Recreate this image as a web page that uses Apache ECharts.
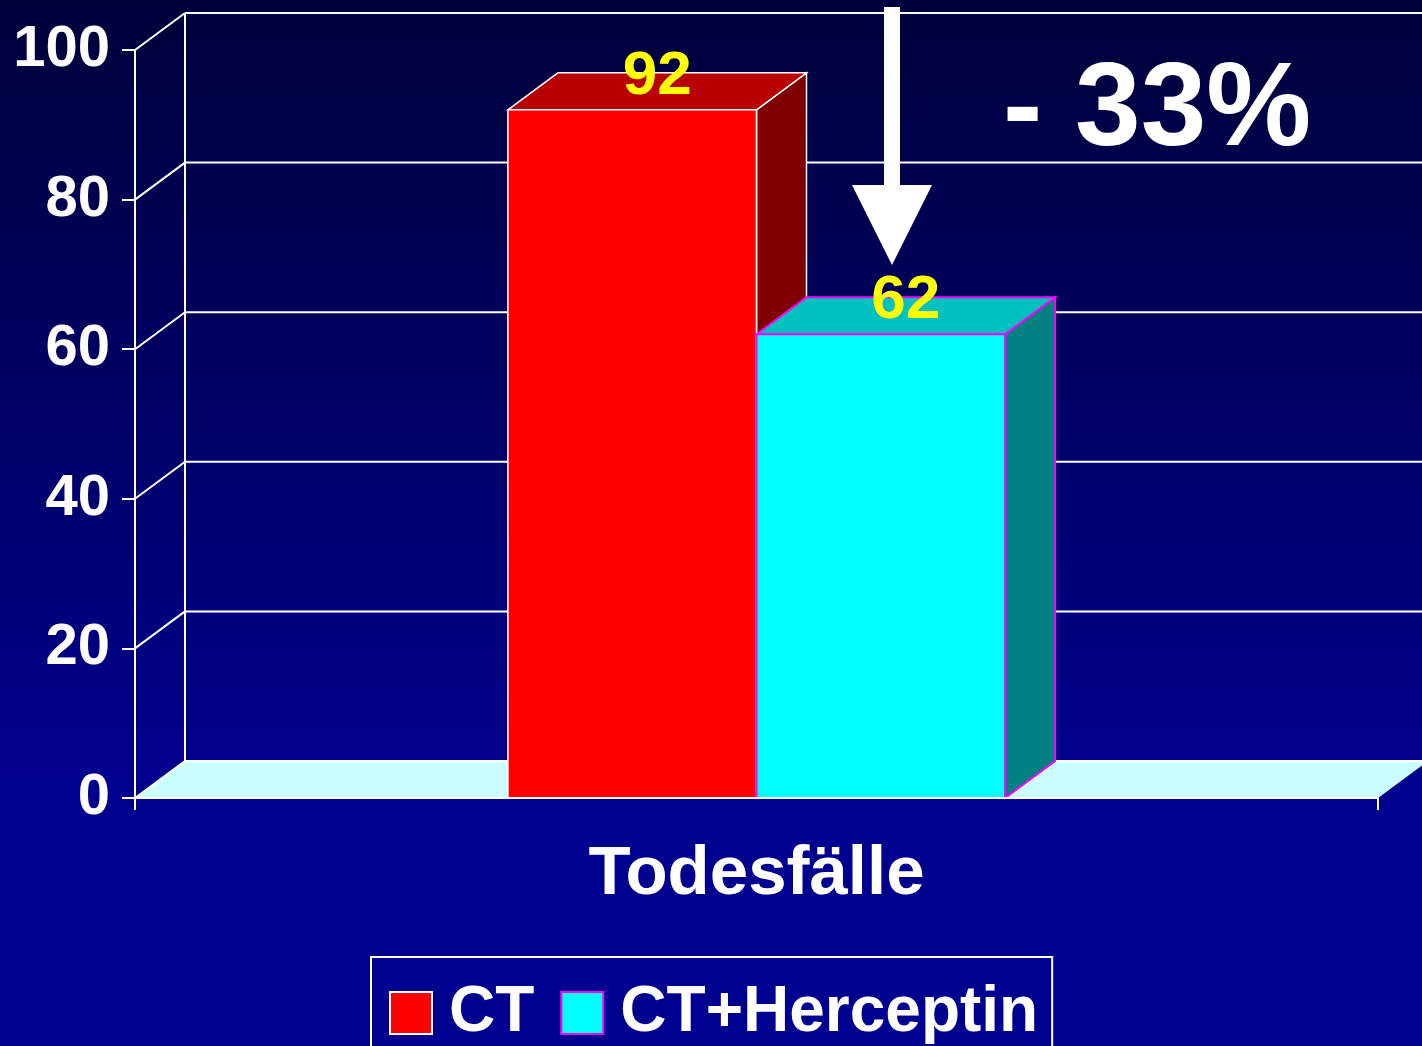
<!DOCTYPE html>
<html>
<head>
<meta charset="utf-8">
<script src="https://cdn.jsdelivr.net/npm/echarts@6/dist/echarts.min.js"></script>
<style>html,body{margin:0;padding:0;}#c{width:1422px;height:1046px;}</style>
</head>
<body>
<div id="c"></div>
<script>
var categories = ['Todesfälle'];
var seriesNames = ['CT', 'CT+Herceptin'];
var ctValues = [92];
var herceptinValues = [62];
var yTicks = [0, 20, 40, 60, 80, 100];
var annotationText = '- 33%';

var FONT = 'Arial, "Liberation Sans", sans-serif';
var DX = 50, DY = -37;        // 3D depth offset
var BAR_RATIO = 0.2;           // bar width relative to band

var chart = echarts.init(document.getElementById('c'));

function barRender(side, faces) {
  return function (params, api) {
    var v = api.value(1);
    var top = api.coord([api.value(0), v]);
    var base = api.coord([api.value(0), 0]);
    var band = api.size([1, 0])[0];
    var w = band * BAR_RATIO;
    var x0 = side < 0 ? top[0] - w : top[0];
    var x1 = x0 + w;
    var yT = top[1], yB = base[1];
    var ls = {stroke: faces.edge, lineWidth: faces.edgeWidth, lineJoin: 'miter'};
    return {
      type: 'group',
      children: [
        {type: 'polygon', shape: {points: [[x1, yT], [x1 + DX, yT + DY], [x1 + DX, yB + DY], [x1, yB]]},
          style: Object.assign({fill: faces.side}, ls)},
        {type: 'polygon', shape: {points: [[x0, yT], [x0 + DX, yT + DY], [x1 + DX, yT + DY], [x1, yT]]},
          style: Object.assign({fill: faces.top}, ls)},
        {type: 'rect', shape: {x: x0, y: yT, width: w, height: yB - yT},
          style: Object.assign({fill: faces.front}, ls)},
        {type: 'text', x: (x0 + x1) / 2 + DX / 2, y: yT + DY + 4,
          style: {text: String(v), fill: '#ffff00', font: 'bold 62px ' + FONT, align: 'center', verticalAlign: 'middle'}}
      ]
    };
  };
}

function frameRender(params, api) {
  var v = api.value(1);
  var p = api.coord([0, v]);
  var band = api.size([1, 0])[0];
  var xl = p[0] - band / 2, xr = p[0] + band / 2;
  var y = p[1];
  var ls = {stroke: '#ffffff', lineWidth: 2};
  var ch = [];
  if (v === 0) {
    ch.push({type: 'polygon', shape: {points: [[xl, y], [xl + DX, y + DY], [xr + DX, y + DY], [xr, y]]},
      style: {fill: '#ccffff'}});
    var yTop = api.coord([0, yTicks[yTicks.length - 1]])[1];
    ch.push({type: 'line', shape: {x1: xl + DX, y1: y + DY, x2: xl + DX, y2: yTop + DY}, style: ls});
  }
  ch.push({type: 'line', shape: {x1: xl, y1: y, x2: xl + DX, y2: y + DY}, style: ls});
  ch.push({type: 'line', shape: {x1: xl + DX, y1: y + DY, x2: xr + DX + 10, y2: y + DY}, style: ls});
  return {type: 'group', children: ch};
}

var option = {
  backgroundColor: {
    type: 'linear', x: 0, y: 0, x2: 0, y2: 1,
    colorStops: [{offset: 0, color: '#00003a'}, {offset: 0.76, color: '#00008f'}, {offset: 1, color: '#000090'}]
  },
  animation: false,
  grid: {left: 135, right: 44, top: 50, bottom: 248, containLabel: false},
  xAxis: {
    type: 'category', data: categories, z: 10,
    axisLine: {lineStyle: {color: '#ffffff', width: 2}},
    axisTick: {show: true, length: 12, lineStyle: {color: '#ffffff', width: 2}},
    axisLabel: {color: '#ffffff', fontWeight: 'bold', fontSize: 69, fontFamily: FONT, margin: 42}
  },
  yAxis: {
    type: 'value', min: 0, max: 100, interval: 20,
    axisLine: {show: true, lineStyle: {color: '#ffffff', width: 2}},
    axisTick: {show: true, length: 13, lineStyle: {color: '#ffffff', width: 2}},
    axisLabel: {color: '#ffffff', fontWeight: 'bold', fontSize: 58, fontFamily: FONT, margin: 25},
    splitLine: {show: false}
  },
  legend: {
    left: 371, top: 957,
    padding: [24, 14, 40, 18],
    borderColor: '#ffffff', borderWidth: 2,
    itemWidth: 42, itemHeight: 42, itemGap: 26,
    textStyle: {color: '#ffffff', fontWeight: 'bold', fontSize: 64, fontFamily: FONT, padding: [0, 0, 0, 12]},
    data: [
      {name: 'CT', icon: 'rect', itemStyle: {color: '#ff0000', borderColor: '#ffffff', borderWidth: 2}},
      {name: 'CT+Herceptin', icon: 'rect', itemStyle: {color: '#00ffff', borderColor: '#ff00ff', borderWidth: 2}}
    ]
  },
  graphic: [
    {type: 'rect', shape: {x: 884, y: 7, width: 16, height: 180}, style: {fill: '#ffffff'}, z: 20},
    {type: 'polygon', shape: {points: [[852, 185], [932, 185], [892, 265]]}, style: {fill: '#ffffff'}, z: 20},
    {type: 'text', x: 1003, y: 112, style: {text: annotationText, fill: '#ffffff', font: 'bold 118px ' + FONT, verticalAlign: 'middle'}, z: 20}
  ],
  series: [
    {name: 'frame', type: 'custom', z: 1, silent: true, renderItem: frameRender,
      data: yTicks.map(function (t) { return [0, t]; })},
    {name: seriesNames[0], type: 'custom', z: 3, renderItem: barRender(-1, {front: '#ff0000', top: '#b80000', side: '#800000', edge: '#ffffff', edgeWidth: 1.5}),
      itemStyle: {color: '#ff0000'},
      data: ctValues.map(function (v, i) { return [i, v]; })},
    {name: seriesNames[1], type: 'custom', z: 4, renderItem: barRender(1, {front: '#00ffff', top: '#00c0c0', side: '#008080', edge: '#ff00ff', edgeWidth: 2}),
      itemStyle: {color: '#00ffff'},
      data: herceptinValues.map(function (v, i) { return [i, v]; })}
  ]
};
chart.setOption(option);
</script>
</body>
</html>
